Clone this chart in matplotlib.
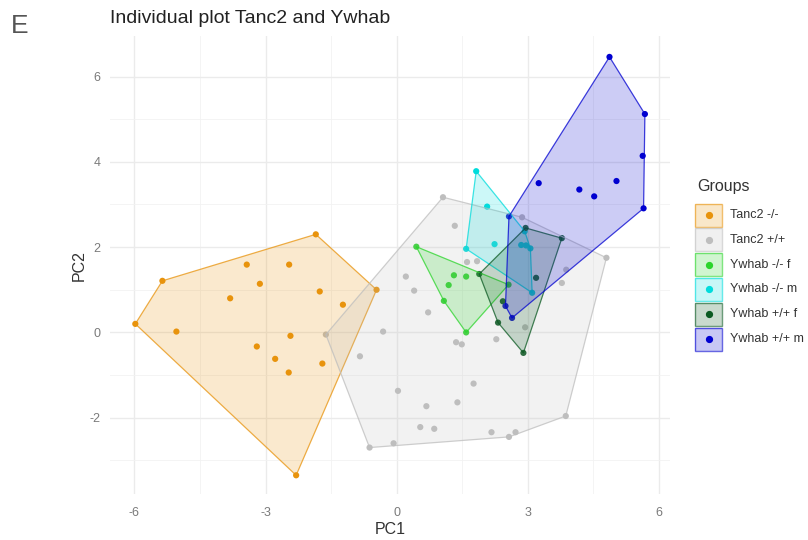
import matplotlib
matplotlib.use("Agg")
import matplotlib.pyplot as plt
from matplotlib.patches import Polygon, Rectangle
import numpy as np

plt.rcParams["font.family"] = ["Liberation Sans", "DejaVu Sans"]
plt.rcParams["axes.unicode_minus"] = False

# group names and colours (legend order = draw order)
groups = ["Tanc2 -/-", "Tanc2 +/+", "Ywhab -/- f", "Ywhab -/- m",
          "Ywhab +/+ f", "Ywhab +/+ m"]
colors = ["#E8930C", "#BEBEBE", "#2BD52B", "#00DCDC", "#0B5A22", "#0000D0"]

# PC scores
tanc_ko_x = [-1.85, -5.36, -5.98, -5.04, -3.43, -2.46, -3.13, -3.81, -1.76,
             -1.23, -0.46, -2.43, -3.20, -2.78, -2.47, -1.70, -2.30]
tanc_ko_y = [2.30, 1.21, 0.20, 0.02, 1.59, 1.59, 1.14, 0.80, 0.96,
             0.65, 1.00, -0.08, -0.33, -0.62, -0.94, -0.73, -3.35]

tanc_wt_x = [1.06, 1.33, 2.87, 4.80, 1.61, 1.84, 0.21, 0.40, 0.72, -0.31,
             -1.62, -0.84, 1.36, 1.49, 2.28, 2.94, 3.78, 3.88, 1.76, 0.03,
             0.68, 1.39, 0.54, 0.86, 2.17, 2.57, 2.72, 3.87, -0.07, -0.62]
tanc_wt_y = [3.17, 2.50, 2.70, 1.75, 1.65, 1.67, 1.31, 0.98, 0.47, 0.02,
             -0.05, -0.56, -0.23, -0.28, -0.16, 0.12, 1.16, 1.47, -1.20, -1.37,
             -1.73, -1.64, -2.22, -2.26, -2.34, -2.45, -2.34, -1.96, -2.60, -2.70]

ywhab_ko_f_x = [0.45, 1.31, 1.59, 1.19, 1.08, 1.59, 2.56]
ywhab_ko_f_y = [2.01, 1.34, 1.31, 1.11, 0.74, 0.00, 1.12]

ywhab_ko_m_x = [1.82, 2.07, 2.24, 1.59, 2.93, 2.85, 2.96, 3.06, 3.10]
ywhab_ko_m_y = [3.78, 2.95, 2.07, 1.96, 2.37, 2.05, 2.04, 1.97, 0.93]

ywhab_wt_f_x = [2.95, 3.78, 1.89, 3.19, 2.43, 2.32, 2.90]
ywhab_wt_f_y = [2.45, 2.21, 1.37, 1.28, 0.73, 0.23, -0.48]

ywhab_wt_m_x = [4.87, 5.68, 5.63, 5.65, 3.25, 4.18, 4.52, 5.03, 2.57, 2.49, 2.64]
ywhab_wt_m_y = [6.46, 5.12, 4.14, 2.91, 3.50, 3.35, 3.19, 3.55, 2.72, 0.62, 0.34]

xs = [tanc_ko_x, tanc_wt_x, ywhab_ko_f_x, ywhab_ko_m_x, ywhab_wt_f_x, ywhab_wt_m_x]
ys = [tanc_ko_y, tanc_wt_y, ywhab_ko_f_y, ywhab_ko_m_y, ywhab_wt_f_y, ywhab_wt_m_y]

x_ticks = [-6, -3, 0, 3, 6]
y_ticks = [-2, 0, 2, 4, 6]


def convex_hull(px, py):
    pts = sorted(set(zip(px, py)))

    def cross(o, a, b):
        return (a[0] - o[0]) * (b[1] - o[1]) - (a[1] - o[1]) * (b[0] - o[0])

    lower, upper = [], []
    for p in pts:
        while len(lower) >= 2 and cross(lower[-2], lower[-1], p) <= 0:
            lower.pop()
        lower.append(p)
    for p in reversed(pts):
        while len(upper) >= 2 and cross(upper[-2], upper[-1], p) <= 0:
            upper.pop()
        upper.append(p)
    return np.array(lower[:-1] + upper[:-1])


fig = plt.figure(figsize=(8.08, 5.40), dpi=100)
ax = fig.add_axes([0.1361, 0.0843, 0.6934, 0.849])

ax.set_xlim(-6.56, 6.26)
ax.set_ylim(-3.80, 6.95)
ax.set_xticks(x_ticks)
ax.set_yticks(y_ticks)
ax.set_xticks([-4.5, -1.5, 1.5, 4.5], minor=True)
ax.set_yticks([-3, -1, 1, 3, 5], minor=True)
ax.grid(True, which="major", color="#EBEBEB", linewidth=1.0)
ax.grid(True, which="minor", color="#F2F2F2", linewidth=0.6)
ax.set_axisbelow(True)
for s in ax.spines.values():
    s.set_visible(False)
ax.tick_params(which="both", length=0, colors="#7A7A7A", labelsize=9)
ax.tick_params(axis="x", pad=9)
ax.tick_params(axis="y", pad=7)

# points first, hulls on top (as in the original)
for gx, gy, c in zip(xs, ys, colors):
    ax.scatter(gx, gy, s=20, color=c, edgecolors="none", zorder=2)
for gx, gy, c in zip(xs, ys, colors):
    hull = convex_hull(gx, gy)
    ax.add_patch(Polygon(hull, closed=True, facecolor=c, alpha=0.2,
                         edgecolor="none", zorder=3))
    ax.add_patch(Polygon(hull, closed=True, facecolor="none", edgecolor=c,
                         alpha=0.75, linewidth=0.9, zorder=3))

ax.set_xlabel("PC1", fontsize=11.5, color="#333333", labelpad=2)
ax.set_ylabel("PC2", fontsize=11.5, color="#333333", labelpad=2)
fig.text(0.1361, 0.965, "Individual plot Tanc2 and Ywhab", fontsize=14,
         color="#222222", va="center", ha="left")
fig.text(0.014, 0.952, "E", fontsize=19, color="#555555", va="center",
         ha="left")

# legend drawn by hand in pixel coordinates
lg = fig.add_axes([0, 0, 1, 1], facecolor="none")
lg.set_xlim(0, 808)
lg.set_ylim(540, 0)
lg.axis("off")
lg.text(697, 187, "Groups", fontsize=11.5, color="#333333", va="center",
        ha="left")
for i, (name, c) in enumerate(zip(groups, colors)):
    yc = 215 + i * 24.8
    lg.add_patch(Rectangle((695, yc - 11.5), 27, 23, facecolor=c, alpha=0.22,
                           edgecolor="none"))
    lg.add_patch(Rectangle((695, yc - 11.5), 27, 23, facecolor="none",
                           edgecolor=c, alpha=0.6, linewidth=1.0))
    lg.plot([708.5], [yc], marker="o", markersize=4.2, color=c,
            linestyle="none")
    lg.text(730, yc, name, fontsize=9, color="#333333", va="center",
            ha="left")

fig.savefig("out.png", dpi=100)
